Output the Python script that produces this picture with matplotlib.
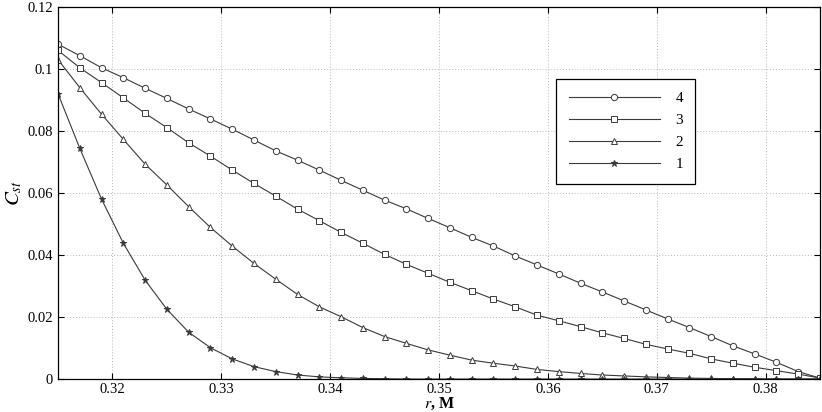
import numpy as np
import matplotlib
matplotlib.use("Agg")
import matplotlib.pyplot as plt

plt.rcParams['font.family'] = ['Liberation Serif', 'DejaVu Serif']
plt.rcParams['mathtext.fontset'] = 'stix'

# radius, m (markers every 0.002)
r = [0.315, 0.317, 0.319, 0.321, 0.323, 0.325, 0.327, 0.329, 0.331, 0.333,
     0.335, 0.337, 0.339, 0.341, 0.343, 0.345, 0.347, 0.349, 0.351, 0.353,
     0.355, 0.357, 0.359, 0.361, 0.363, 0.365, 0.367, 0.369, 0.371, 0.373,
     0.375, 0.377, 0.379, 0.381, 0.383, 0.385]

c4 = [0.1080, 0.1043, 0.1004, 0.0972, 0.0938, 0.0905, 0.0871, 0.0839, 0.0806, 0.0771,
      0.0736, 0.0706, 0.0674, 0.0641, 0.0609, 0.0577, 0.0549, 0.0518, 0.0488, 0.0457,
      0.0429, 0.0397, 0.0368, 0.0339, 0.0309, 0.0281, 0.0252, 0.0223, 0.0194, 0.0166,
      0.0137, 0.0107, 0.0081, 0.0054, 0.0024, 0.0003]
c3 = [0.1060, 0.1004, 0.0956, 0.0907, 0.0857, 0.0811, 0.0762, 0.0719, 0.0674, 0.0631,
      0.0590, 0.0548, 0.0511, 0.0473, 0.0438, 0.0402, 0.0370, 0.0341, 0.0312, 0.0285,
      0.0258, 0.0233, 0.0206, 0.0188, 0.0169, 0.0149, 0.0131, 0.0112, 0.0097, 0.0083,
      0.0065, 0.0051, 0.0038, 0.0027, 0.0016, 0.0003]
c2 = [0.1030, 0.0940, 0.0854, 0.0773, 0.0693, 0.0626, 0.0556, 0.0489, 0.0429, 0.0373,
      0.0322, 0.0273, 0.0233, 0.0201, 0.0166, 0.0137, 0.0115, 0.0094, 0.0077, 0.0061,
      0.0051, 0.0042, 0.0031, 0.0024, 0.0018, 0.0013, 0.0010, 0.0007, 0.0005, 0.0003,
      0.0002, 0.0001, 0.0001, 0.0000, 0.0000, 0.0000]
c1 = [0.0920, 0.0744, 0.0580, 0.0438, 0.0319, 0.0225, 0.0151, 0.0101, 0.0065, 0.0040,
      0.0024, 0.0013, 0.0007, 0.0004, 0.0002, 0.0001, 0.0000, 0.0000, 0.0000, 0.0000,
      0.0000, 0.0000, 0.0000, 0.0000, 0.0000, 0.0000, 0.0000, 0.0000, 0.0000, 0.0000,
      0.0000, 0.0000, 0.0000, 0.0000, 0.0000, 0.0000]

series = [("4", c4, "o"), ("3", c3, "s"), ("2", c2, "^"), ("1", c1, "*")]
line_color = "#3a3a3a"

fig = plt.figure(figsize=(8.22, 4.12), dpi=100)
ax = fig.add_axes([0.0706, 0.080, 0.927, 0.903])

for label, vals, mk in series:
    face = line_color if mk == "*" else "white"
    ax.plot(r, vals, color=line_color, linewidth=0.8, marker=mk,
            markersize=4.5 if mk != "*" else 5, markerfacecolor=face,
            markeredgecolor=line_color, markeredgewidth=0.7, label=label)

ax.set_xlim(0.315, 0.385)
ax.set_ylim(0, 0.12)
ax.set_xticks([0.32, 0.33, 0.34, 0.35, 0.36, 0.37, 0.38])
ax.set_xticklabels(["0.32", "0.33", "0.34", "0.35", "0.36", "0.37", "0.38"])
ax.set_yticks([0, 0.02, 0.04, 0.06, 0.08, 0.1, 0.12])
ax.set_yticklabels(["0", "0.02", "0.04", "0.06", "0.08", "0.1", "0.12"])
ax.tick_params(direction="in", length=4, labelsize=10.5, top=True, right=True)
ax.tick_params(axis="x", pad=3)
ax.grid(True, linestyle=(0, (1, 2)), color="#b8b8b8", linewidth=0.7)
for s in ax.spines.values():
    s.set_linewidth(0.9)

ax.set_xlabel("$r$, М", fontsize=11.5, labelpad=0, fontweight="bold")
ax.set_ylabel("$C_{st}$", fontsize=15, labelpad=2)

leg = ax.legend(loc="upper left", bbox_to_anchor=(0.654, 0.806), numpoints=1,
                handlelength=6, fontsize=11, labelspacing=0.55, borderpad=0.8,
                handletextpad=1.0, fancybox=False, framealpha=1, edgecolor="black",
                borderaxespad=0)
leg.get_frame().set_linewidth(0.9)

fig.savefig("out.png", dpi=100)
